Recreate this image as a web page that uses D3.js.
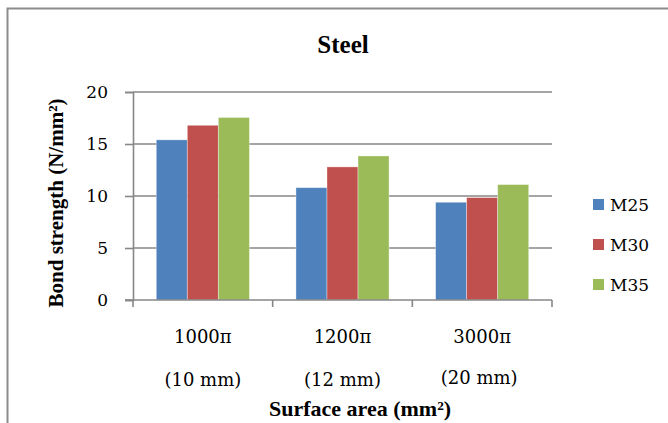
<!DOCTYPE html>
<html>
<head>
<meta charset="utf-8">
<script src="https://cdn.jsdelivr.net/npm/d3@7/dist/d3.min.js"></script>
<style>
  html, body { margin: 0; padding: 0; background: #fff; }
  svg { display: block; }
</style>
</head>
<body>
<svg id="chart" width="668" height="423"></svg>
<script>
// Bond strength (N/mm²) of steel bars by surface area, for three concrete grades
const categories = ["1000\u03c0", "1200\u03c0", "3000\u03c0"];
const diameters = ["(10 mm)", "(12 mm)", "(20 mm)"];
const seriesNames = ["M25", "M30", "M35"];
const m25 = [15.4, 10.8, 9.4];
const m30 = [16.8, 12.8, 9.85];
const m35 = [17.55, 13.85, 11.1];
const yTicks = [0, 5, 10, 15, 20];
const colors = ["#4F81BD", "#C0504D", "#9BBB59"];

const seriesValues = [m25, m30, m35];
const rows = categories.map((c, i) => ({
  cat: c,
  values: seriesNames.map((s, j) => ({ key: s, value: seriesValues[j][i] }))
}));

const svg = d3.select("#chart");
const gridColor = "#878787";
const regular = "'DejaVu Serif', serif";
const bold = "'Liberation Serif', 'Times New Roman', serif";

// chart frame
svg.append("path")
  .attr("d", "M7.5,423 V8.5 H668")
  .attr("fill", "none")
  .attr("stroke", "#8c8c8c")
  .attr("stroke-width", 2);

const plot = { left: 133, right: 552, top: 92, bottom: 300 };

const x0 = d3.scaleBand()
  .domain(categories)
  .range([plot.left, plot.right])
  .paddingInner(0).paddingOuter(0);

const bw = x0.bandwidth();
const x1 = d3.scaleBand()
  .domain(seriesNames)
  .range([bw / 6, bw * 5 / 6])
  .padding(0);

const y = d3.scaleLinear().domain([0, 20]).range([plot.bottom, plot.top]);
const color = d3.scaleOrdinal().domain(seriesNames).range(colors);

// horizontal gridlines
svg.append("g")
  .selectAll("line")
  .data(yTicks.filter(t => t > 0))
  .join("line")
  .attr("x1", plot.left).attr("x2", plot.right)
  .attr("y1", d => y(d)).attr("y2", d => y(d))
  .attr("stroke", gridColor).attr("stroke-width", 1.6);

// bars
svg.append("g")
  .selectAll("g")
  .data(rows)
  .join("g")
  .attr("transform", d => `translate(${x0(d.cat)},0)`)
  .selectAll("rect")
  .data(d => d.values)
  .join("rect")
  .attr("x", d => x1(d.key))
  .attr("width", x1.bandwidth())
  .attr("y", d => y(d.value))
  .attr("height", d => y(0) - y(d.value))
  .attr("fill", d => color(d.key))
  .attr("stroke", "rgba(255,255,255,0.45)")
  .attr("stroke-width", 0.8);

// y axis
const yAxis = d3.axisLeft(y).tickValues(yTicks).tickSize(8).tickPadding(17);
const gy = svg.append("g")
  .attr("transform", `translate(${plot.left},0)`)
  .call(yAxis);
gy.select(".domain").attr("stroke", gridColor).attr("stroke-width", 1.6);
gy.selectAll(".tick line").attr("stroke", gridColor).attr("stroke-width", 1.6);
gy.selectAll(".tick text")
  .attr("font-family", regular).attr("font-size", 17).attr("fill", "#000");

// x axis: line plus ticks at category boundaries
svg.append("line")
  .attr("x1", plot.left - 8).attr("x2", plot.right)
  .attr("y1", y(0)).attr("y2", y(0))
  .attr("stroke", gridColor).attr("stroke-width", 1.6);
const bounds = categories.map(c => x0(c)).concat([x0(categories[categories.length - 1]) + bw]);
svg.append("g")
  .selectAll("line")
  .data(bounds)
  .join("line")
  .attr("x1", d => d).attr("x2", d => d)
  .attr("y1", y(0)).attr("y2", y(0) + 7)
  .attr("stroke", gridColor).attr("stroke-width", 1.6);

// category labels (two lines)
const catLabels = svg.append("g")
  .attr("font-family", regular).attr("font-size", 18)
  .attr("text-anchor", "middle").attr("fill", "#000");
catLabels.selectAll("text.l1")
  .data(categories)
  .join("text").attr("class", "l1")
  .attr("x", d => x0(d) + bw / 2)
  .attr("y", 343)
  .text(d => d);
catLabels.selectAll("text.l2")
  .data(diameters)
  .join("text").attr("class", "l2")
  .attr("x", (d, i) => x0(categories[i]) + bw / 2 - (i === 2 ? 3 : 0))
  .attr("y", (d, i) => i === 2 ? 384 : 386)
  .text(d => d);

// title
svg.append("text")
  .attr("x", 343).attr("y", 53)
  .attr("text-anchor", "middle")
  .attr("font-family", bold).attr("font-weight", "bold").attr("font-size", 25)
  .text("Steel");

// axis titles
svg.append("text")
  .attr("transform", "translate(63,203) rotate(-90)")
  .attr("text-anchor", "middle")
  .attr("font-family", bold).attr("font-weight", "bold").attr("font-size", 21)
  .text("Bond strength (N/mm\u00b2)");

svg.append("text")
  .attr("x", 360).attr("y", 416)
  .attr("text-anchor", "middle")
  .attr("font-family", bold).attr("font-weight", "bold").attr("font-size", 22)
  .text("Surface area (mm\u00b2)");

// legend
const legend = svg.append("g")
  .selectAll("g")
  .data(seriesNames)
  .join("g")
  .attr("transform", (d, i) => `translate(593,${199 + i * 40})`);
legend.append("rect")
  .attr("width", 11).attr("height", 11)
  .attr("fill", d => color(d));
legend.append("text")
  .attr("x", 17).attr("y", 12)
  .attr("font-family", regular).attr("font-size", 17)
  .text(d => d);
</script>
</body>
</html>
